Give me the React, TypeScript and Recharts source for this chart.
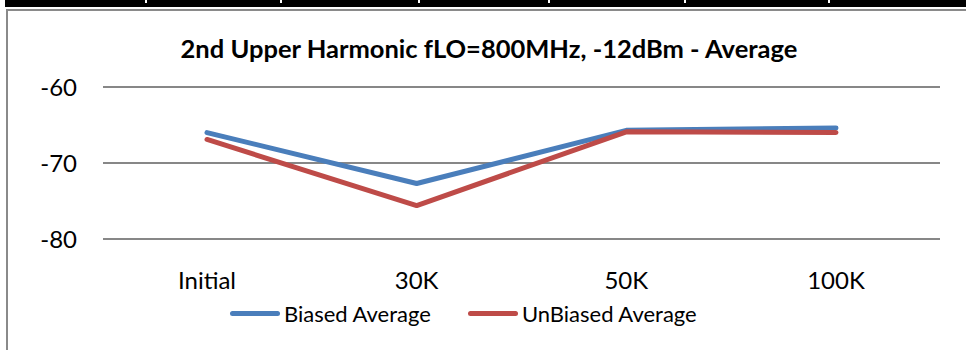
import { CartesianGrid, Legend, Line, LineChart, XAxis, YAxis } from 'recharts'

const categories = ['Initial', '30K', '50K', '100K']
const biasedAverage = [-66.0, -72.7, -65.7, -65.4]
const unbiasedAverage = [-66.9, -75.6, -65.9, -66.0]
const yTicks = [-80, -70, -60]
const seriesNames = ['Biased Average', 'UnBiased Average']
const seriesColors = ['#4A7EBB', '#BE4B48']
const notchXs = [145, 280, 418, 548, 684, 828]

const FONT = 'Lato, "Open Sans", sans-serif'

const data = categories.map((name, i) => ({
  name,
  biased: biasedAverage[i],
  unbiased: unbiasedAverage[i],
}))

function LegendContent() {
  return (
    <div style={{ display: 'flex', alignItems: 'center', fontFamily: FONT, fontSize: 22, color: '#000' }}>
      {seriesNames.map((label, i) => (
        <div key={label} style={{ display: 'flex', alignItems: 'center', marginRight: i === 0 ? 37 : 0 }}>
          <span
            style={{
              display: 'inline-block',
              width: 50,
              height: 5,
              borderRadius: 3,
              background: seriesColors[i],
              marginRight: 4,
            }}
          />
          <span>{label}</span>
        </div>
      ))}
    </div>
  )
}

export default function App() {
  return (
    <div style={{ position: 'absolute', left: 0, top: 0, width: 966, height: 350, background: '#fff', overflow: 'hidden' }}>
      <div style={{ position: 'absolute', left: 5, top: 0, width: 961, height: 7, background: '#000' }} />
      {notchXs.map((x) => (
        <div key={x} style={{ position: 'absolute', left: x, top: 0, width: 2, height: 3, background: '#fff' }} />
      ))}
      <div
        style={{
          position: 'absolute',
          left: 6,
          top: 9,
          width: 980,
          height: 360,
          borderLeft: '2px solid #8a8a8a',
          borderTop: '2px solid #8a8a8a',
        }}
      />
      <div
        style={{
          position: 'absolute',
          left: 139,
          width: 700,
          top: 33,
          textAlign: 'center',
          fontFamily: FONT,
          fontWeight: 'bold',
          fontSize: 25.5,
          color: '#000',
          whiteSpace: 'nowrap',
        }}
      >
        2nd Upper Harmonic fLO=800MHz, -12dBm - Average
      </div>
      <div style={{ position: 'absolute', left: 0, top: 0 }}>
        <LineChart width={966} height={350} data={data} margin={{ top: 87, right: 26, bottom: 71, left: 0 }}>
          <CartesianGrid horizontal vertical={false} stroke="#878787" strokeWidth={2} />
          <XAxis
            dataKey="name"
            padding={{ left: 104, right: 104 }}
            axisLine={false}
            tickLine={false}
            tickMargin={27}
            height={40}
            tick={{ fill: '#000', fontSize: 24, fontFamily: FONT }}
          />
          <YAxis
            domain={[-80, -60]}
            ticks={yTicks}
            width={103}
            axisLine={false}
            tickLine={false}
            tickMargin={20}
            tick={{ fill: '#000', fontSize: 24, fontFamily: FONT }}
          />
          <Legend
            layout="horizontal"
            verticalAlign="middle"
            align="center"
            content={<LegendContent />}
            wrapperStyle={{ top: 300, left: 230, width: 'auto' }}
          />
          <Line
            dataKey="biased"
            name={seriesNames[0]}
            stroke={seriesColors[0]}
            strokeWidth={5}
            strokeLinecap="round"
            strokeLinejoin="round"
            dot={false}
            isAnimationActive={false}
          />
          <Line
            dataKey="unbiased"
            name={seriesNames[1]}
            stroke={seriesColors[1]}
            strokeWidth={5}
            strokeLinecap="round"
            strokeLinejoin="round"
            dot={false}
            isAnimationActive={false}
          />
        </LineChart>
      </div>
    </div>
  )
}
